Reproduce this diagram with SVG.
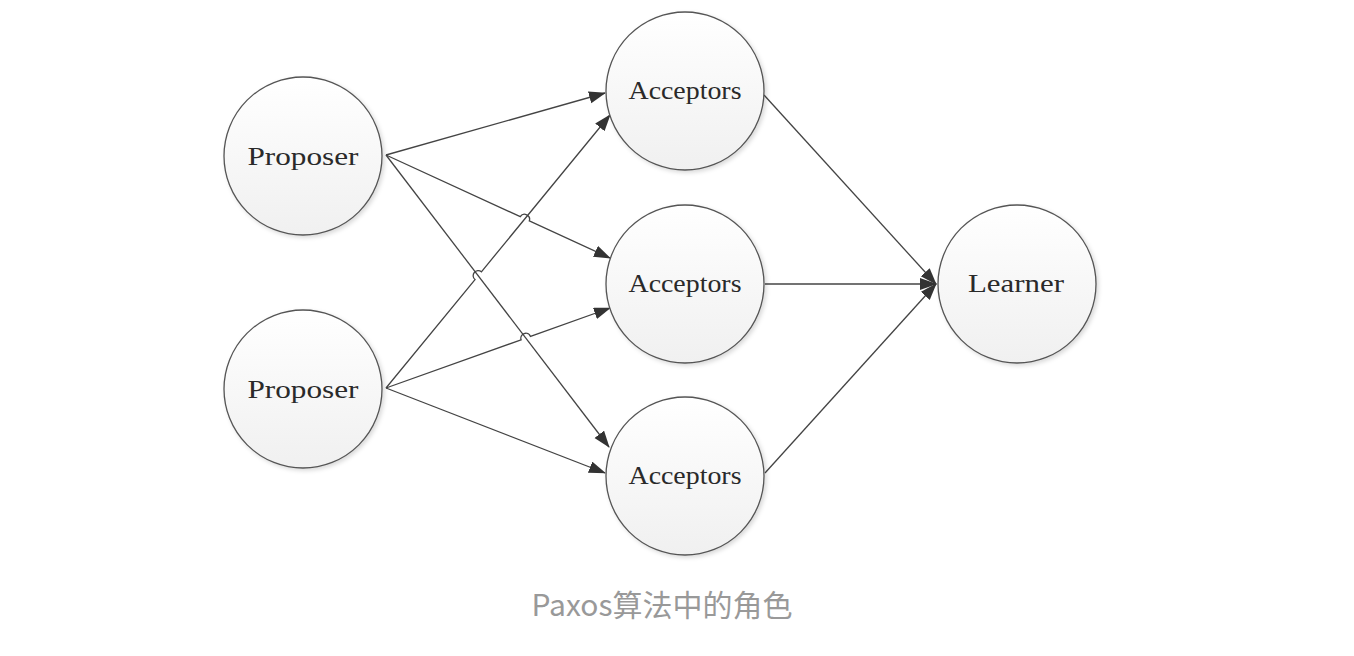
<svg xmlns="http://www.w3.org/2000/svg" width="1354" height="656" viewBox="0 0 1354 656">
<style>
.node circle{fill:url(#g);stroke:#555;stroke-width:1.3;filter:url(#sh)}
.node text{font-family:"Liberation Serif","Times New Roman",serif;font-size:26px;fill:#2a2a2a;text-anchor:middle}
.conn path{fill:none;stroke:#444;stroke-width:1.3}
.arr{marker-end:url(#ah)}
.cap{font-family:"Noto Sans CJK SC","Noto Sans",sans-serif;font-size:30px;fill:#999;text-anchor:middle}
</style>
<defs>
<linearGradient id="g" x1="0" y1="0" x2="0" y2="1">
<stop offset="0" stop-color="#ffffff"/>
<stop offset="1" stop-color="#f0f0f0"/>
</linearGradient>
<filter id="sh" x="-20%" y="-20%" width="140%" height="140%">
<feDropShadow dx="2" dy="2" stdDeviation="2" flood-color="#000" flood-opacity="0.15"/>
</filter>
<marker id="ah" markerUnits="userSpaceOnUse" markerWidth="18" markerHeight="14" refX="16" refY="6" orient="auto">
<path d="M0,0 L17,6 L0,12 Z" fill="#333"/>
</marker>
</defs>
<rect width="1354" height="656" fill="#fff"/>
<g id="connectors" class="conn">
<path class="arr" d="M386,155 L605,93"/>
<path class="arr" d="M386,155 L520.3,216.7 A5,5 0 0 1 529.3,220.9 L610,258"/>
<path class="arr" d="M386,155 L609,447"/>
<path class="arr" d="M386,388 L475,279.6 A5,5 0 0 1 481.4,271.8 L610,115"/>
<path class="arr" d="M386,388 L521.1,339.8 A5,5 0 0 1 530.5,336.4 L610,308"/>
<path class="arr" d="M386,388 L605,473"/>
<path class="arr" d="M764,95 L936,284"/>
<path class="arr" d="M765,284 L936,284"/>
<path class="arr" d="M765,473 L936,284"/>
</g>
<g id="proposer1" class="node"><circle cx="303" cy="156" r="79"/><text x="303" y="165" textLength="111" lengthAdjust="spacingAndGlyphs">Proposer</text></g>
<g id="proposer2" class="node"><circle cx="303" cy="389" r="79"/><text x="303" y="398" textLength="111" lengthAdjust="spacingAndGlyphs">Proposer</text></g>
<g id="acceptor1" class="node"><circle cx="685" cy="91" r="79"/><text x="685" y="99" textLength="113" lengthAdjust="spacingAndGlyphs">Acceptors</text></g>
<g id="acceptor2" class="node"><circle cx="685" cy="284" r="79"/><text x="685" y="292" textLength="113" lengthAdjust="spacingAndGlyphs">Acceptors</text></g>
<g id="acceptor3" class="node"><circle cx="685" cy="476" r="79"/><text x="685" y="484" textLength="113" lengthAdjust="spacingAndGlyphs">Acceptors</text></g>
<g id="learner" class="node"><circle cx="1017" cy="284" r="79"/><text x="1016" y="292" textLength="96" lengthAdjust="spacingAndGlyphs">Learner</text></g>
<text class="cap" x="662" y="616">Paxos算法中的角色</text>
</svg>
